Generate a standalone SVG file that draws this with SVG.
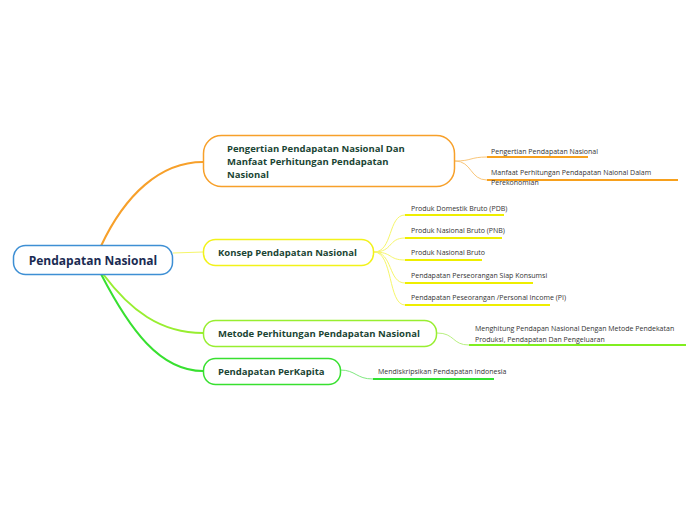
<svg xmlns="http://www.w3.org/2000/svg" width="696" height="520" viewBox="0 0 696 520">
<style>
.root{fill:#fff;stroke:#3d8fd4;stroke-width:1.5}
.main{fill:#fff;stroke-width:1.5}
.rt{font-family:"Open Sans","Noto Sans",sans-serif;font-weight:bold;font-size:12px;fill:#1a2b52}
.mt{font-family:"Open Sans","Noto Sans",sans-serif;font-weight:bold;font-size:9.5px;fill:#1b4534}
.st{font-family:"Open Sans","Noto Sans",sans-serif;font-size:7px;fill:#333}
.c{fill:none}
</style>
<rect width="696" height="520" fill="#fff"/>
<g id="connectors">
<path class="c" d="M101,246 C125,195 160,162 203,162" stroke="#f7a02a" stroke-width="2"/>
<path class="c" d="M173,253 L203,252" stroke="#f5f56a" stroke-width="1.2"/>
<path class="c" d="M103,274 C130,310 160,333 203,333" stroke="#98ee30" stroke-width="2"/>
<path class="c" d="M101,274 C130,330 160,371 203,371" stroke="#38e030" stroke-width="2"/>
<path class="c" d="M455,161 C472,161 470,157 487,157" stroke="#f9c67a" stroke-width="1"/>
<path class="c" d="M455,161 C472,161 470,180 487,180" stroke="#f9c67a" stroke-width="1"/>
<line x1="487" y1="157" x2="588" y2="157" stroke="#f7a01c" stroke-width="2"/>
<line x1="487" y1="180" x2="678" y2="180" stroke="#f7a01c" stroke-width="2"/>
<g stroke="#f6f66a" stroke-width="1" fill="none">
<path d="M374,252 C393,252 388,215 405,215"/>
<path d="M374,252 C393,252 388,238 405,238"/>
<path d="M374,252 C393,252 388,260 405,260"/>
<path d="M374,252 C393,252 388,283 405,283"/>
<path d="M374,252 C393,252 388,305 405,305"/>
</g>
<g stroke="#eeee00" stroke-width="2">
<line x1="405" y1="215" x2="504" y2="215"/>
<line x1="405" y1="238" x2="502" y2="238"/>
<line x1="405" y1="260" x2="482" y2="260"/>
<line x1="405" y1="283" x2="533" y2="283"/>
<line x1="405" y1="305" x2="550" y2="305"/>
</g>
<path class="c" d="M437,333 C455,333 452,345 469,345" stroke="#b8f080" stroke-width="1"/>
<line x1="469" y1="345" x2="686" y2="345" stroke="#80ee20" stroke-width="2"/>
<path class="c" d="M340,370 C356,370 356,379 373,379" stroke="#80e880" stroke-width="1"/>
<line x1="373" y1="379" x2="494" y2="379" stroke="#30e030" stroke-width="2"/>
</g>
<g id="root">
<rect class="root" x="13.5" y="245.5" width="159" height="29" rx="12"/>
<text class="rt" x="93" y="265" text-anchor="middle">Pendapatan Nasional</text>
</g>
<g id="topic1">
<rect class="main" x="203.5" y="135.5" width="251" height="51" rx="18" stroke="#f7a02a"/>
<text class="mt" x="227" y="152">Pengertian Pendapatan Nasional Dan</text>
<text class="mt" x="227" y="165">Manfaat Perhitungan Pendapatan</text>
<text class="mt" x="227" y="178">Nasional</text>
</g>
<g id="topic2">
<rect class="main" x="203.5" y="239.5" width="170" height="26" rx="12" stroke="#f2f21a"/>
<text class="mt" x="218" y="256">Konsep Pendapatan Nasional</text>
</g>
<g id="topic3">
<rect class="main" x="203.5" y="320.5" width="233" height="26" rx="12" stroke="#98ee30"/>
<text class="mt" x="218" y="337">Metode Perhitungan Pendapatan Nasional</text>
</g>
<g id="topic4">
<rect class="main" x="203.5" y="358.5" width="137" height="26" rx="12" stroke="#38e030"/>
<text class="mt" x="218" y="375">Pendapatan PerKapita</text>
</g>
<g id="sub1a"><text class="st" x="491" y="153.5">Pengertian Pendapatan Nasional</text></g>
<g id="sub1b"><text class="st" x="491" y="174.5">Manfaat Perhitungan Pendapatan Naional Dalam</text><text class="st" x="491" y="185">Perekonomian</text></g>
<g id="sub2a"><text class="st" x="411" y="210.5">Produk Domestik Bruto (PDB)</text></g>
<g id="sub2b"><text class="st" x="411" y="232.5">Produk Nasional Bruto (PNB)</text></g>
<g id="sub2c"><text class="st" x="411" y="254.5">Produk Nasional Bruto</text></g>
<g id="sub2d"><text class="st" x="411" y="277.5">Pendapatan Perseorangan Siap Konsumsi</text></g>
<g id="sub2e"><text class="st" x="411" y="299.5">Pendapatan Peseorangan /Personal Income (PI)</text></g>
<g id="sub3"><text class="st" x="475" y="331">Menghitung Pendapan Nasional Dengan Metode Pendekatan</text><text class="st" x="475" y="341.5">Produksi, Pendapatan Dan Pengeluaran</text></g>
<g id="sub4"><text class="st" x="378" y="373.5">Mendiskripsikan Pendapatan Indonesia</text></g>
</svg>
